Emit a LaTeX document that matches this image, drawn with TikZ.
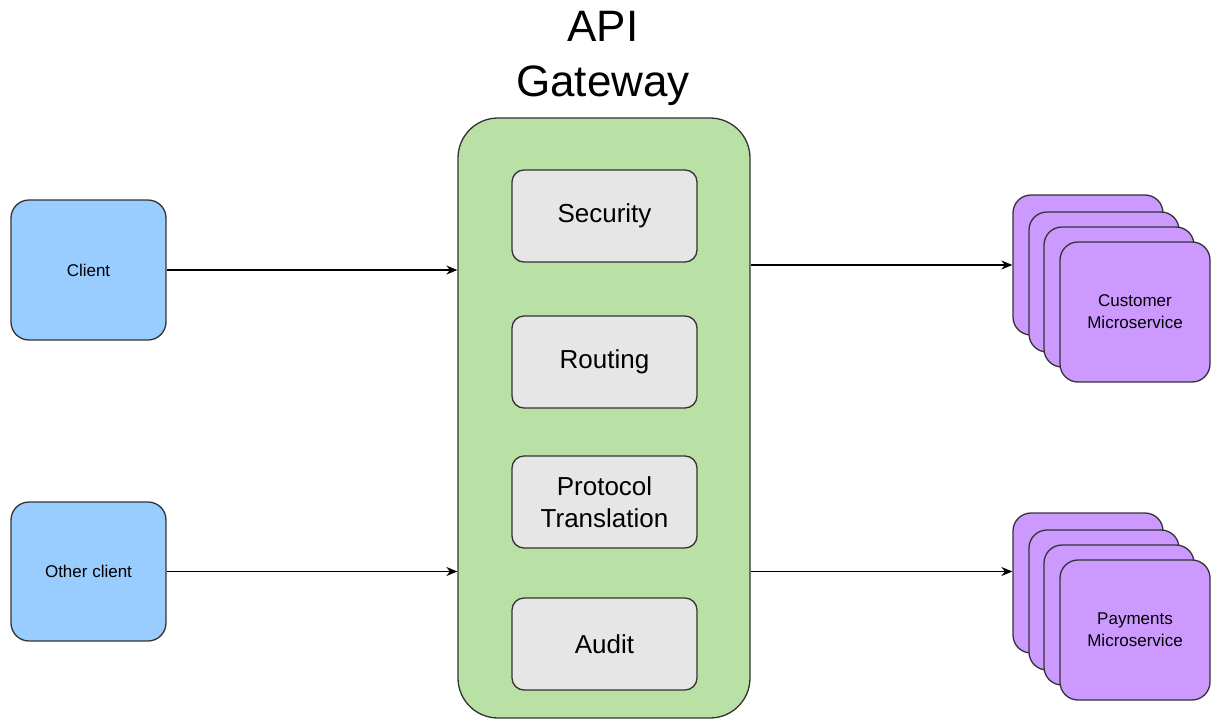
\documentclass[tikz,border=0pt]{standalone}
\usepackage{fontspec}
\setmainfont{Liberation Sans}
\usetikzlibrary{arrows.meta}
\definecolor{cblue}{HTML}{99CCFF}
\definecolor{cgreen}{HTML}{B9E0A5}
\definecolor{cgray}{HTML}{E6E6E6}
\definecolor{cpurple}{HTML}{CC99FF}
\definecolor{cline}{HTML}{333333}
\tikzset{
  clientbox/.style={draw=cline, line width=1.3pt, fill=cblue, rounded corners=18pt,
    minimum width=155pt, minimum height=140pt, inner sep=0pt,
    font=\fontsize{17}{20}\selectfont, align=center},
  gwbox/.style={draw=cline, line width=1.3pt, fill=cgreen, rounded corners=40pt,
    minimum width=292pt, minimum height=600pt, inner sep=0pt},
  featbox/.style={draw=cline, line width=1.3pt, fill=cgray, rounded corners=12pt,
    minimum width=185pt, minimum height=92pt, inner sep=0pt,
    font=\fontsize{26}{32}\selectfont, align=center},
  svcbox/.style={draw=cline, line width=1.3pt, fill=cpurple, rounded corners=18pt,
    minimum width=150pt, minimum height=140pt, inner sep=0pt,
    font=\fontsize{17}{22}\selectfont, align=center},
  conn/.style={draw=black, line width=1.4pt, -{Stealth[length=11pt,width=9pt]}},
}
\begin{document}
\begin{tikzpicture}[x=1pt,y=-1pt]
\useasboundingbox (0,0) rectangle (1212,720);
\node[font=\fontsize{44}{55}\selectfont, align=center] (title) at (603,58) {API\\Gateway};
\node[clientbox] (client) at (88.5,270) {Client};
\node[clientbox, minimum height=139pt] (other) at (88.5,571.5) {Other client};
\node[gwbox] (gw) at (604,418) {};
\node[featbox] (sec) at (604.5,216) {Security};
\node[featbox] (rout) at (604.5,362) {Routing};
\node[featbox] (prot) at (604.5,502) {Protocol\\Translation};
\node[featbox] (aud) at (604.5,644) {Audit};
\node[svcbox] (cus1) at (1088,265) {};
\node[svcbox] (cus2) at (1104,282) {};
\node[svcbox] (cus3) at (1119,297) {};
\node[svcbox] (cus4) at (1135,312) {Customer\\Microservice};
\node[svcbox] (pay1) at (1088,583) {};
\node[svcbox] (pay2) at (1104,600) {};
\node[svcbox] (pay3) at (1119,615) {};
\node[svcbox] (pay4) at (1135,630) {Payments\\Microservice};
\draw[conn] (client.east) -- (client.east -| gw.west);
\draw[conn] (other.east) -- (other.east -| gw.west);
\draw[conn] (cus1.west -| gw.east) -- (cus1.west);
\draw[conn] (other.east -| gw.east) -- (other.east -| pay1.west);
\end{tikzpicture}
\end{document}
